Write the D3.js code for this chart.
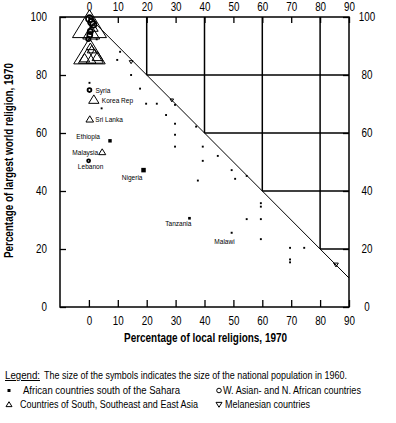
<!DOCTYPE html>
<html lang="en">
<head>
  <meta charset="UTF-8">
  <title>Local and world religions, 1970</title>
  <script src="https://d3js.org/d3.v7.min.js"></script>
  <style>
    body { margin: 0; background: #fff; }
    svg { display: block; font-family: "Liberation Sans", Arial, sans-serif; }
    .tick text { font-size: 12px; fill: #000; }
    .tick line { stroke: #000; stroke-width: 1.3; }
    .title { font-size: 12px; font-weight: bold; }
    .lab { font-size: 8px; }
    .legend text { font-size: 10px; }
  </style>
</head>
<body>
  <div id="chart"></div>

  <script>
    // local = % local religions 1970, world = % largest world religion 1970, pop = millions 1960
    const xTicks = [0, 10, 20, 30, 40, 50, 60, 70, 80, 90];
    const yTicks = [0, 20, 40, 60, 80, 100];
    const steps = [20, 40, 60, 80];

    const africaNames = ["Ethiopia", "Nigeria", "Tanzania", "Malawi",
      "", "", "", "", "", "", "", "", "", "", "", "", "", "", "", "", "", "",
      "", "", "", "", "", "", "", "", "", "", "", "", "", "", ""];
    const africaLocal = [7.3, 18.9, 34.8, 49.4,
      10.8, 9.8, 14.6, 0.2, 4.4, 17.7, 19.8, 23.5, 26.7, 29.8, 29.8, 29.8, 29.8, 39.4,
      39.4, 44.6, 49.4, 50.6, 54.6, 37.7, 37.1, 59.5, 59.5, 54.6, 59.5, 59.5, 69.6, 74.5,
      69.6, 69.6, 2.7, 0.6, 0.1];
    const africaWorld = [57.3, 47.2, 30.6, 25.6,
      88.0, 85.2, 80.0, 77.3, 68.5, 75.3, 70.1, 70.1, 66.2, 69.7, 63.2, 59.4, 55.3, 55.3,
      50.4, 52.1, 47.2, 44.2, 45.2, 43.6, 62.2, 35.8, 34.6, 30.3, 30.3, 23.4, 20.4, 20.4,
      16.4, 15.4, 92.3, 97.2, 99.6];
    const africaPop = [22, 45, 10, 3.5,
      3, 3, 3, 3, 3, 3, 3, 3, 3, 3, 3, 3, 3, 3,
      3, 3, 3, 3, 3, 3, 3, 3, 3, 3, 3, 3, 3, 3,
      3, 3, 3, 3, 3];

    const westNames = ["Syria", "Lebanon", "", "", "", "", "", ""];
    const westLocal = [0.2, -0.1, 0.2, 0.9, 1.5, 0.5, 0.3, -0.2];
    const westWorld = [74.8, 50.4, 99.4, 98.2, 97.4, 95.0, 93.8, 92.4];
    const westPop = [4.6, 1.9, 28, 26, 21, 12, 11, 7];

    const asiaNames = ["Korea Rep", "Sri Lanka", "Malaysia", "", "", "", "", "", "", "", "", "", ""];
    const asiaLocal = [1.7, 0.3, 4.6, 0.2, 0.8, 1.5, 0.2, -0.6, 2.0, 3.0, -1.5, 1.0, 0.5];
    const asiaWorld = [71.2, 64.5, 53.2, 96.1, 94.0, 96.0, 86.8, 85.7, 85.7, 86.0, 85.5, 88.5, 89.5];
    const asiaPop = [25, 10, 8, 450, 90, 22, 380, 100, 95, 30, 25, 18, 12];

    const melLocal = [14.6, 28.7, 85.5];
    const melWorld = [84.6, 71.4, 14.7];
    const melPop = [0.4, 0.2, 2.2];

    // label placement: anchor, dx, dy relative to the marker
    const labelPos = {
      "Syria": ["start", 6, 3],
      "Korea Rep": ["start", 8, 2.6],
      "Sri Lanka": ["start", 5.5, 2.5],
      "Ethiopia": ["end", -10, -2],
      "Malaysia": ["end", -4, 2],
      "Lebanon": ["middle", 2, 8.5],
      "Nigeria": ["end", -1, 9.5],
      "Tanzania": ["end", 2, 8],
      "Malawi": ["end", 3, 11]
    };

    const narrow = 0.82; // the original type is a condensed face

    const W = 396, H = 423;
    const svg = d3.select("#chart")
      .append("svg")
      .attr("width", W)
      .attr("height", H);

    const x = d3.scaleLinear().domain([-10, 90]).range([60, 349]);
    const y = d3.scaleLinear().domain([0, 100]).range([307, 17]);

    const triSide = d3.scaleSqrt().domain([0, 450]).range([3, 34]);
    const sqSide = d3.scaleSqrt().domain([0, 45]).range([1, 4.5]);
    const circR = d3.scaleSqrt().domain([0, 30]).range([0.8, 3.6]);
    const melSide = d3.scaleSqrt().domain([0, 3]).range([3, 5]);

    const triangle = {
      draw(ctx, s) {
        const h = 0.82 * s;
        ctx.moveTo(0, -2 * h / 3);
        ctx.lineTo(s / 2, h / 3);
        ctx.lineTo(-s / 2, h / 3);
        ctx.closePath();
      }
    };

    // axes, ticks pointing inward
    svg.append("g")
      .attr("transform", `translate(0,${y(0)})`)
      .call(d3.axisBottom(x).tickValues(xTicks).tickSize(-7).tickPadding(9))
      .call(g => g.select(".domain").remove());

    svg.append("g")
      .attr("transform", `translate(0,${y(100)})`)
      .call(d3.axisTop(x).tickValues(xTicks).tickSize(-6).tickPadding(6))
      .call(g => g.select(".domain").remove());

    svg.append("g")
      .attr("transform", `translate(${x(-10)},0)`)
      .call(d3.axisLeft(y).tickValues(yTicks).tickSize(-6).tickPadding(13 / narrow))
      .call(g => g.select(".domain").remove());

    svg.append("g")
      .attr("transform", `translate(${x(90)},0)`)
      .call(d3.axisRight(y).tickValues(yTicks).tickSize(-6).tickPadding(18 / narrow))
      .call(g => g.select(".domain").remove())
      .call(g => g.selectAll("text").attr("text-anchor", "middle"));

    svg.selectAll(".tick text")
      .attr("font-family", null).attr("font-size", null)
      .attr("transform", `scale(${narrow},1)`);

    // frame
    svg.append("rect")
      .attr("x", x(-10)).attr("y", y(100))
      .attr("width", x(90) - x(-10)).attr("height", y(0) - y(100))
      .attr("fill", "none").attr("stroke", "#000").attr("stroke-width", 1.5);

    // staircase grid above the diagonal
    svg.selectAll(".vgrid")
      .data(steps)
      .enter()
      .append("line")
      .attr("x1", d => x(d)).attr("x2", d => x(d))
      .attr("y1", y(100)).attr("y2", d => y(100 - d))
      .attr("stroke", "#000").attr("stroke-width", 1.5);

    svg.selectAll(".hgrid")
      .data(steps)
      .enter()
      .append("line")
      .attr("x1", d => x(100 - d)).attr("x2", x(90))
      .attr("y1", d => y(d)).attr("y2", d => y(d))
      .attr("stroke", "#000").attr("stroke-width", 1.5);

    // diagonal: local + world = 100
    svg.append("line")
      .attr("x1", x(0)).attr("y1", y(100))
      .attr("x2", x(90)).attr("y2", y(10))
      .attr("stroke", "#000").attr("stroke-width", 1);

    // Asia: open triangles
    svg.append("g").selectAll("path")
      .data(asiaLocal.map((d, i) => i))
      .enter()
      .append("path")
      .attr("transform", i => `translate(${x(asiaLocal[i])},${y(asiaWorld[i])})`)
      .attr("d", i => d3.symbol().type(triangle).size(triSide(asiaPop[i]))())
      .attr("fill", "none").attr("stroke", "#000").attr("stroke-width", 1);

    // W. Asia / N. Africa: open circles
    svg.append("g").selectAll("circle")
      .data(westLocal.map((d, i) => i))
      .enter()
      .append("circle")
      .attr("cx", i => x(westLocal[i]))
      .attr("cy", i => y(westWorld[i]))
      .attr("r", i => circR(westPop[i]))
      .attr("fill", "none").attr("stroke", "#000").attr("stroke-width", 1.8);

    // Africa south of Sahara: filled squares
    svg.append("g").selectAll("rect")
      .data(africaLocal.map((d, i) => i))
      .enter()
      .append("rect")
      .attr("x", i => x(africaLocal[i]) - sqSide(africaPop[i]) / 2)
      .attr("y", i => y(africaWorld[i]) - sqSide(africaPop[i]) / 2)
      .attr("width", i => sqSide(africaPop[i]))
      .attr("height", i => sqSide(africaPop[i]))
      .attr("fill", "#000");

    // Melanesia: down triangles
    svg.append("g").selectAll("path")
      .data(melLocal.map((d, i) => i))
      .enter()
      .append("path")
      .attr("transform", i => `translate(${x(melLocal[i])},${y(melWorld[i])}) rotate(180)`)
      .attr("d", i => d3.symbol().type(triangle).size(melSide(melPop[i]))())
      .attr("fill", "none").attr("stroke", "#000").attr("stroke-width", 1);

    // country labels
    const labels = [];
    africaNames.forEach((n, i) => { if (n) labels.push([n, africaLocal[i], africaWorld[i]]); });
    westNames.forEach((n, i) => { if (n) labels.push([n, westLocal[i], westWorld[i]]); });
    asiaNames.forEach((n, i) => { if (n) labels.push([n, asiaLocal[i], asiaWorld[i]]); });

    svg.append("g").selectAll("text")
      .data(labels)
      .enter()
      .append("text")
      .attr("class", "lab")
      .attr("transform", d => `translate(${x(d[1]) + labelPos[d[0]][1]},${y(d[2]) + labelPos[d[0]][2]}) scale(${narrow},1)`)
      .attr("text-anchor", d => labelPos[d[0]][0])
      .text(d => d[0]);

    // axis titles
    svg.append("text")
      .attr("class", "title")
      .attr("x", 124).attr("y", 342)
      .attr("textLength", 163).attr("lengthAdjust", "spacingAndGlyphs")
      .text("Percentage of local religions, 1970");

    svg.append("text")
      .attr("class", "title")
      .attr("transform", "translate(13,258) rotate(-90)")
      .attr("textLength", 195).attr("lengthAdjust", "spacingAndGlyphs")
      .text("Percentage of largest world religion, 1970");

    // legend
    const legend = svg.append("g").attr("class", "legend");
    const legendText = (x0, y0, len, str) => legend.append("text")
      .attr("x", x0).attr("y", y0)
      .attr("textLength", len).attr("lengthAdjust", "spacingAndGlyphs")
      .text(str);

    legendText(5, 379, 35, "Legend:").attr("text-decoration", "underline");
    legendText(44, 379, 303, "The size of the symbols indicates the size of the national population in 1960.");

    legend.append("rect").attr("x", 7.5).attr("y", 389).attr("width", 3).attr("height", 3).attr("fill", "#000");
    legendText(23, 394, 157, "African countries south of the Sahara");

    legend.append("circle").attr("cx", 219).attr("cy", 390.5).attr("r", 2.3)
      .attr("fill", "none").attr("stroke", "#000");
    legendText(223, 394, 138, "W. Asian- and N. African countries");

    legend.append("path")
      .attr("transform", "translate(9,405)")
      .attr("d", d3.symbol().type(triangle).size(6)())
      .attr("fill", "none").attr("stroke", "#000");
    legendText(20, 408, 178, "Countries of South, Southeast and East Asia");

    legend.append("path")
      .attr("transform", "translate(219,404) rotate(180)")
      .attr("d", d3.symbol().type(triangle).size(6)())
      .attr("fill", "none").attr("stroke", "#000");
    legendText(225, 408, 85, "Melanesian countries");
  </script>
</body>
</html>
